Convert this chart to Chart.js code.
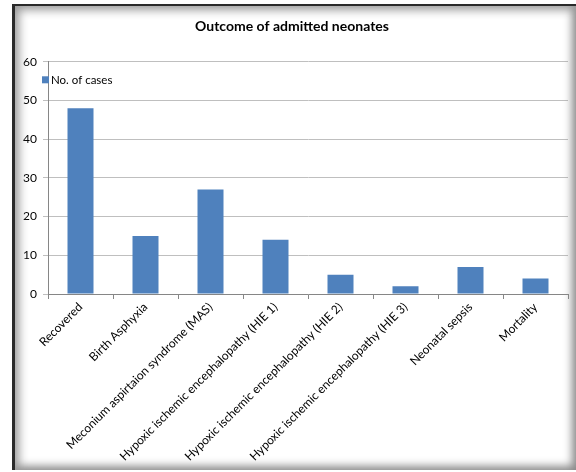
<!DOCTYPE html>
<html>
<head>
<meta charset="utf-8">
<script src="https://cdn.jsdelivr.net/npm/chart.js@4/dist/chart.umd.min.js"></script>
<style>
html,body{margin:0;padding:0;background:#fff;}
#wrap{position:absolute;left:0;top:0;width:576px;height:472px;}
#frame{position:absolute;left:12px;top:4px;width:561px;height:464px;border-left:3px solid #2a2a2a;border-top:2px solid #2a2a2a;box-shadow:inset 10px 10px 10px -6px #9a9a9a, inset -8px -8px 8px -4px #8a8a8a;pointer-events:none;}
#frame:after{content:"";position:absolute;right:-4px;top:0;width:4px;height:100%;background:linear-gradient(to right,#8a8a8a,#d0d0d0);}
canvas{position:absolute;left:0;top:0;}
</style>
</head>
<body>
<div id="wrap">
<canvas id="c" width="576" height="472"></canvas>
<div id="frame"></div>
</div>
<script>
const categories = ["Recovered","Birth Asphyxia","Meconium aspirtaion syndrome (MAS)","Hypoxic ischemic encephalopathy (HIE 1)","Hypoxic ischemic encephalopathy (HIE 2)","Hypoxic ischemic encephalopathy (HIE 3)","Neonatal sepsis","Mortality"];
const cases = [48, 15, 27, 14, 5, 2, 7, 4];
const seriesName = "No. of cases";
const chartTitle = "Outcome of admitted neonates";

const font = "Lato, 'Open Sans', sans-serif";

// Legend drawn inside the plot area, top-left, from the dataset's own label and colour
const insideLegend = {
  id: 'insideLegend',
  afterDatasetsDraw(chart) {
    const ctx = chart.ctx, area = chart.chartArea;
    chart.data.datasets.forEach((ds, i) => {
      const x = area.left - 6, y = area.top + 18 + i * 14;
      ctx.save();
      ctx.fillStyle = ds.backgroundColor;
      ctx.fillRect(x, y - 3.5, 7, 7);
      ctx.fillStyle = '#000';
      ctx.font = '11.5px ' + font;
      ctx.textBaseline = 'middle';
      ctx.fillText(ds.label, x + 9, y);
      ctx.restore();
    });
  }
};

new Chart(document.getElementById('c'), {
  type: 'bar',
  data: {
    labels: categories,
    datasets: [{
      label: seriesName,
      data: cases,
      backgroundColor: '#4F81BD',
      borderWidth: 0,
      categoryPercentage: 1,
      barPercentage: 0.4
    }]
  },
  options: {
    responsive: false,
    animation: false,
    layout: {padding: {left: 16, right: 8, top: 0, bottom: 0}},
    plugins: {
      title: {display: true, text: chartTitle, color: '#000', font: {family: font, size: 14, weight: 'bold'}, padding: {top: 18, bottom: 27}},
      legend: {display: false},
      tooltip: {enabled: false}
    },
    scales: {
      x: {
        grid: {display: true, drawOnChartArea: false, offset: true, color: '#868686', tickLength: 5},
        border: {color: '#868686'},
        ticks: {color: '#000', font: {family: font, size: 12}, minRotation: 45, maxRotation: 45, autoSkip: false, padding: 1},
        afterFit: s => { s.height = 178; }
      },
      y: {
        min: 0, max: 60,
        ticks: {stepSize: 10, color: '#000', font: {family: font, size: 12}, padding: 6},
        grid: {color: '#BFBFBF', tickLength: 5, drawTicks: true},
        border: {color: '#868686'},
        afterFit: s => { s.width = 32; }
      }
    }
  },
  plugins: [insideLegend]
});
</script>
</body>
</html>
